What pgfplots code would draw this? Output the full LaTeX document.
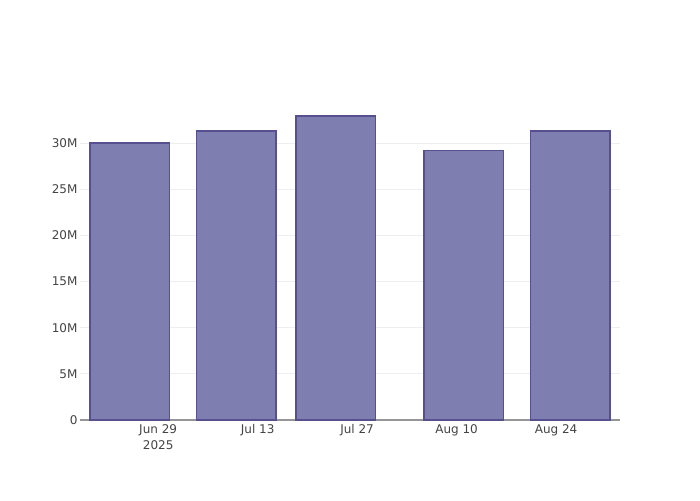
\documentclass[border=0pt]{standalone}
\usepackage{pgfplots}
\pgfplotsset{compat=1.18}
\usepackage{fontspec}
\setmainfont{DejaVu Sans}
\definecolor{barfill}{RGB}{127,126,176}
\definecolor{barline}{RGB}{86,80,143}
\definecolor{ticktext}{RGB}{68,68,68}
\definecolor{gridc}{RGB}{238,238,238}
\definecolor{zeroline}{RGB}{150,150,150}

\begin{document}
\begin{tikzpicture}[x=1pt,y=1pt]
\path[use as bounding box] (0,0) rectangle (700,500);
\begin{axis}[
  at={(80pt,80pt)}, anchor=south west,
  scale only axis,
  width=540pt, height=320pt,
  xmin=-11, xmax=65,
  ymin=0, ymax=34.7e6,
  axis lines*=left,
  x axis line style={draw=zeroline, line width=1pt},
  y axis line style={draw=none},
  major tick length=0pt,
  ymajorgrids,
  grid style={gridc, line width=0.8pt},
  xtick={0,14,28,42,56},
  xticklabels={{Jun 29\\2025},Jul 13,Jul 27,Aug 10,Aug 24},
  xticklabel style={align=center, text=ticktext, font=\fontsize{12}{16}\selectfont, yshift=-1pt},
  ytick={0,5e6,10e6,15e6,20e6,25e6,30e6},
  yticklabels={0,5M,10M,15M,20M,25M,30M},
  yticklabel style={text=ticktext, font=\fontsize{12}{14}\selectfont, xshift=1pt},
  scaled y ticks=false,
  clip=false,
]
\addplot[ybar, bar width=11.2, fill=barfill, draw=barline, line width=1.3pt]
  coordinates {(-4,30.03e6) (11,31.34e6) (25,32.97e6) (43,29.24e6) (58,31.34e6)};
\end{axis}
\end{tikzpicture}
\end{document}
